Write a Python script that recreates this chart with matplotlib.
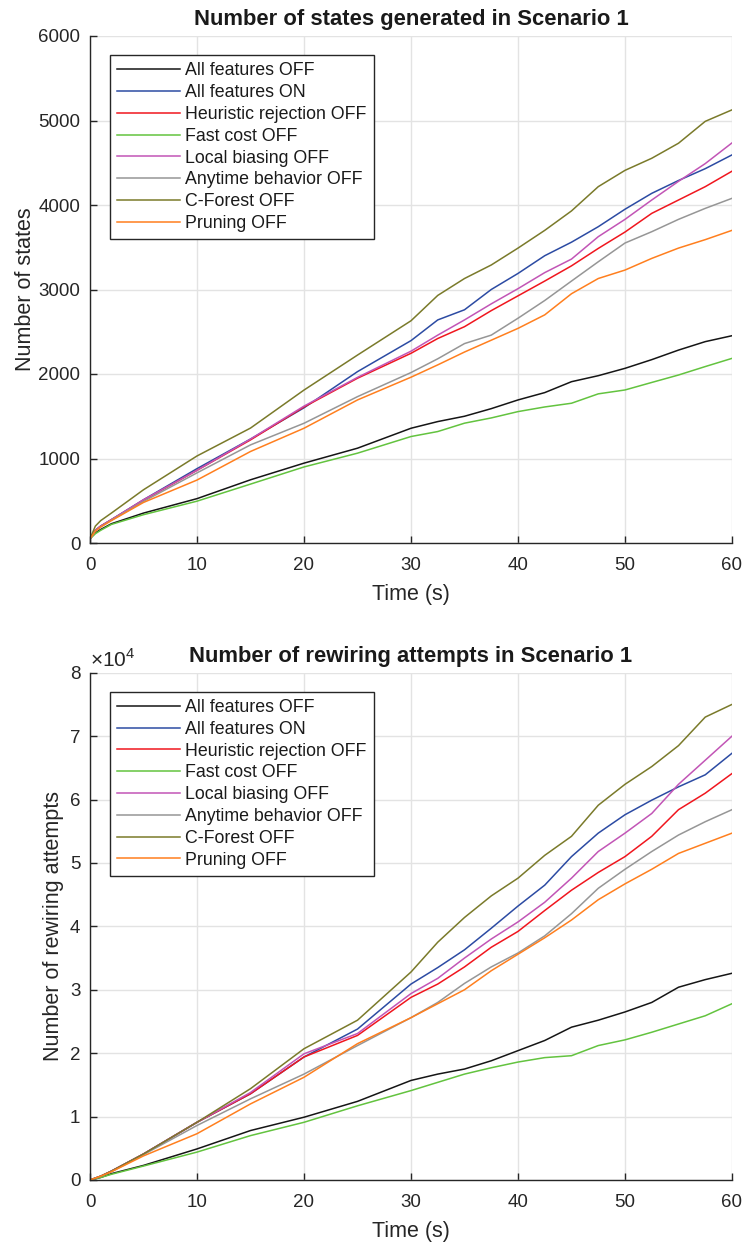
import matplotlib
matplotlib.use("Agg")
import matplotlib.pyplot as plt

plt.rcParams['font.family'] = ['Liberation Sans', 'DejaVu Sans']
plt.rcParams['mathtext.fontset'] = 'custom'
plt.rcParams['mathtext.rm'] = 'Liberation Sans'

# ---- data ----
time_s = [0, 0.5, 1, 2, 5, 10, 15, 20, 25, 30, 32.5, 35, 37.5, 40, 42.5, 45,
          47.5, 50, 52.5, 55, 57.5, 60]

labels = ["All features OFF", "All features ON", "Heuristic rejection OFF",
          "Fast cost OFF", "Local biasing OFF", "Anytime behavior OFF",
          "C-Forest OFF", "Pruning OFF"]

states_all_off = [50, 120, 160, 228, 354, 525, 748, 945, 1122, 1358, 1437, 1500, 1590, 1693,
                  1780, 1909, 1980, 2067, 2170, 2283, 2383, 2453]
states_all_on = [50, 150, 200, 276, 512, 880, 1230, 1600, 2028, 2395, 2640, 2760, 3000, 3190,
                 3400, 3560, 3743, 3950, 4138, 4290, 4430, 4593]
states_heur_off = [50, 150, 200, 276, 505, 860, 1220, 1610, 1950, 2245, 2420, 2560, 2750, 2925,
                   3100, 3280, 3486, 3680, 3901, 4059, 4217, 4400]
states_fast_off = [50, 110, 150, 220, 335, 495, 697, 900, 1063, 1260, 1319, 1418, 1480, 1555,
                   1610, 1654, 1765, 1811, 1900, 1988, 2088, 2185]
states_local_off = [50, 150, 200, 276, 512, 860, 1230, 1620, 1960, 2270, 2460, 2640, 2830, 3010,
                    3200, 3360, 3625, 3830, 4059, 4280, 4490, 4735]
states_anytime_off = [50, 140, 190, 270, 492, 830, 1161, 1417, 1732, 2017, 2180, 2360, 2460, 2660,
                      2870, 3100, 3328, 3550, 3684, 3830, 3960, 4079]
states_cforest_off = [50, 200, 265, 354, 630, 1030, 1360, 1810, 2224, 2630, 2930, 3130, 3290, 3490,
                      3700, 3930, 4217, 4410, 4553, 4731, 4990, 5126]
states_pruning_off = [50, 140, 190, 265, 480, 745, 1083, 1358, 1693, 1962, 2108, 2260, 2400, 2540,
                      2700, 2950, 3130, 3230, 3368, 3490, 3590, 3700]

# rewiring attempts, in units of 10^4
rew_all_off = [0, 0.02, 0.04, 0.10, 0.23, 0.49, 0.78, 0.99, 1.24, 1.57, 1.67, 1.75, 1.88, 2.04,
               2.20, 2.41, 2.52, 2.65, 2.80, 3.04, 3.16, 3.26]
rew_all_on = [0, 0.03, 0.06, 0.14, 0.41, 0.91, 1.36, 1.94, 2.38, 3.09, 3.35, 3.63, 3.97, 4.32,
              4.65, 5.10, 5.47, 5.76, 5.99, 6.20, 6.39, 6.73]
rew_heur_off = [0, 0.03, 0.06, 0.14, 0.41, 0.91, 1.36, 1.94, 2.28, 2.88, 3.09, 3.36, 3.67, 3.92,
                4.25, 4.57, 4.85, 5.10, 5.42, 5.84, 6.10, 6.41]
rew_fast_off = [0, 0.02, 0.04, 0.09, 0.22, 0.44, 0.70, 0.91, 1.17, 1.41, 1.54, 1.67, 1.77, 1.86,
                1.93, 1.96, 2.12, 2.21, 2.33, 2.46, 2.59, 2.78]
rew_local_off = [0, 0.03, 0.06, 0.14, 0.41, 0.91, 1.38, 1.99, 2.31, 2.94, 3.18, 3.50, 3.80, 4.07,
                 4.38, 4.76, 5.18, 5.47, 5.78, 6.24, 6.62, 7.00]
rew_anytime_off = [0, 0.03, 0.06, 0.13, 0.40, 0.86, 1.28, 1.67, 2.12, 2.56, 2.80, 3.10, 3.36, 3.58,
                   3.85, 4.20, 4.60, 4.90, 5.18, 5.44, 5.65, 5.84]
rew_cforest_off = [0, 0.03, 0.06, 0.14, 0.41, 0.91, 1.44, 2.07, 2.52, 3.28, 3.75, 4.14, 4.48, 4.76,
                   5.12, 5.42, 5.91, 6.24, 6.52, 6.85, 7.30, 7.50]
rew_pruning_off = [0, 0.03, 0.06, 0.13, 0.38, 0.73, 1.20, 1.62, 2.15, 2.56, 2.78, 3.00, 3.30, 3.56,
                   3.82, 4.10, 4.42, 4.67, 4.90, 5.15, 5.31, 5.47]

colors = ["#151515", "#2c4ba3", "#f0161e", "#63c33f", "#c255b6", "#969696", "#7a7a2a", "#ff7f1e"]

states = [states_all_off, states_all_on, states_heur_off, states_fast_off,
          states_local_off, states_anytime_off, states_cforest_off, states_pruning_off]
rewiring = [rew_all_off, rew_all_on, rew_heur_off, rew_fast_off,
            rew_local_off, rew_anytime_off, rew_cforest_off, rew_pruning_off]

AX_COL = "#262626"
fig = plt.figure(figsize=(7.44, 12.45), dpi=100)
W, H = 744, 1245


def make_axes(left, top, right, bottom):
    return fig.add_axes([left / W, 1 - bottom / H, (right - left) / W, (bottom - top) / H])


def style(ax, ylim, yticks, title, ylabel, ylabelpad):
    ax.set_xlim(0, 60)
    ax.set_ylim(*ylim)
    ax.set_xticks([0, 10, 20, 30, 40, 50, 60])
    ax.set_yticks(yticks)
    ax.grid(True, color="#e3e3e3", linewidth=1.0)
    ax.set_axisbelow(True)
    for s in ("top", "right"):
        ax.spines[s].set_visible(False)
    for s in ("left", "bottom"):
        ax.spines[s].set_color(AX_COL)
        ax.spines[s].set_linewidth(1.0)
    ax.tick_params(direction="in", length=5, width=1.0, colors=AX_COL, labelsize=13.5)
    ax.tick_params(axis="x", pad=10)
    ax.tick_params(axis="y", pad=7)
    ax.set_title(title, fontsize=15.8, fontweight="bold", color="#1a1a1a", pad=8)
    ax.set_xlabel("Time (s)", fontsize=15.5, color=AX_COL, labelpad=7)
    ax.set_ylabel(ylabel, fontsize=15.5, color=AX_COL, labelpad=ylabelpad)
    leg = ax.legend(loc="upper left", bbox_to_anchor=(0.031, 0.962), fontsize=12.8,
                    frameon=True, fancybox=False, framealpha=1, edgecolor=AX_COL,
                    handlelength=3.55, handletextpad=0.3, labelspacing=0.27,
                    borderpad=0.4, borderaxespad=0)
    leg.get_frame().set_linewidth(1.0)
    for txt in leg.get_texts():
        txt.set_color("#1a1a1a")


ax1 = make_axes(90, 36, 732, 543)
for y, c, lab in zip(states, colors, labels):
    ax1.plot(time_s, y, color=c, linewidth=1.1, label=lab)
style(ax1, (0, 6000), [0, 1000, 2000, 3000, 4000, 5000, 6000],
      "Number of states generated in Scenario 1", "Number of states", 1.5)

ax2 = make_axes(90, 672.7, 732, 1180)
for y, c, lab in zip(rewiring, colors, labels):
    ax2.plot(time_s, y, color=c, linewidth=1.1, label=lab)
style(ax2, (0, 8), [0, 1, 2, 3, 4, 5, 6, 7, 8],
      "Number of rewiring attempts in Scenario 1", "Number of rewiring attempts", 4.5)
ax2.text(0.0, 1.003, r"$\times 10^{4}$", transform=ax2.transAxes, fontsize=15,
         color=AX_COL, ha="left", va="bottom")

fig.savefig("out.png", dpi=100)
